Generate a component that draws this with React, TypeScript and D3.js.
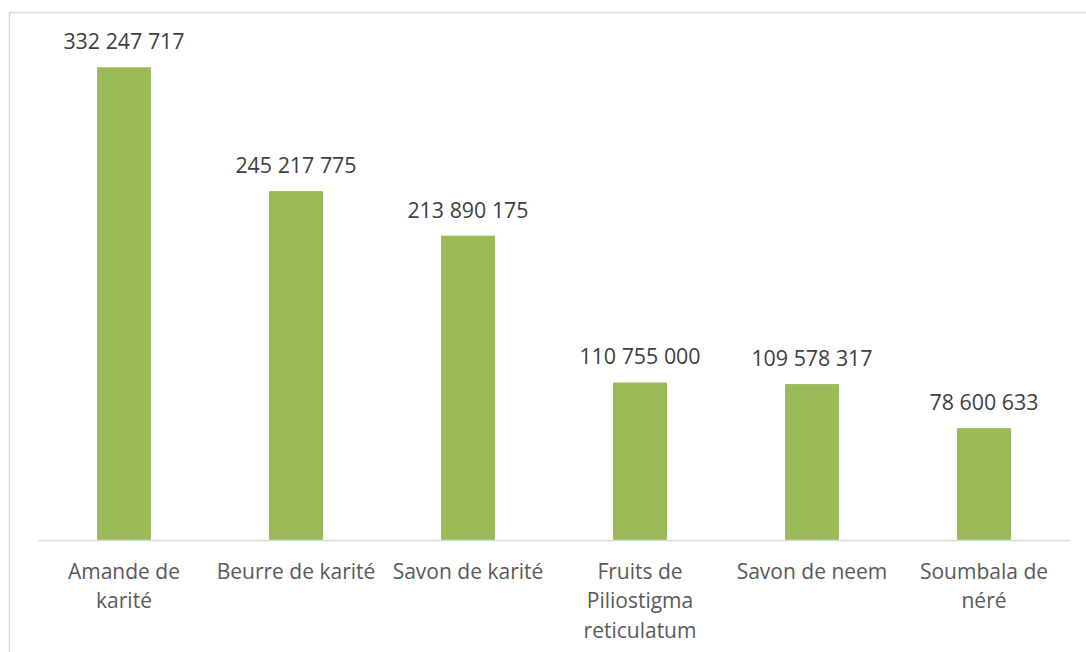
import React from "react";
import * as d3 from "d3";

const categories: string[][] = [
  ["Amande de", "karité"],
  ["Beurre de karité"],
  ["Savon de karité"],
  ["Fruits de", "Piliostigma", "reticulatum"],
  ["Savon de neem"],
  ["Soumbala de", "néré"],
];
const values: number[] = [332247717, 245217775, 213890175, 110755000, 109578317, 78600633];
const valueLabels: string[] = ["332 247 717", "245 217 775", "213 890 175", "110 755 000", "109 578 317", "78 600 633"];
const yMax = 350000000;

const W = 1086;
const H = 652;
const plotLeft = 38;
const plotRight = 1070;
const plotTop = 42;
const plotBottom = 540;
const font = "'Open Sans', sans-serif";

export default function App() {
  const x = d3
    .scaleBand<number>()
    .domain(d3.range(categories.length))
    .range([plotLeft, plotRight])
    .padding(0);
  const y = d3.scaleLinear().domain([0, yMax]).range([plotBottom, plotTop]);
  const barW = x.bandwidth() * 0.314;

  return (
    <svg
      width={W}
      height={H}
      style={{ position: "absolute", left: 0, top: 0, background: "#fff" }}
    >
      <rect x={0} y={0} width={W} height={H} fill="#fff" />
      <rect
        x={9.5}
        y={12.5}
        width={W + 10}
        height={H + 10}
        fill="#fff"
        stroke="#d9d9d9"
        strokeWidth={1.5}
      />
      {values.map((v, i) => {
        const cx = (x(i) as number) + x.bandwidth() / 2;
        return (
          <g key={i}>
            <rect
              x={cx - barW / 2}
              y={y(v)}
              width={barW}
              height={plotBottom - y(v)}
              fill="#9bbb59"
            />
            <text
              x={cx}
              y={y(v) - 18}
              textAnchor="middle"
              fontFamily={font}
              fontSize={21.4}
              fill="#404040"
            >
              {valueLabels[i]}
            </text>
          </g>
        );
      })}
      <line
        x1={plotLeft}
        x2={plotRight}
        y1={plotBottom + 0.5}
        y2={plotBottom + 0.5}
        stroke="#d9d9d9"
        strokeWidth={1.5}
      />
      {categories.map((lines, i) => {
        const cx = (x(i) as number) + x.bandwidth() / 2;
        return (
          <text
            key={i}
            textAnchor="middle"
            fontFamily={font}
            fontSize={21}
            fill="#595959"
          >
            {lines.map((l, j) => (
              <tspan key={j} x={cx} y={579 + j * 29.3}>
                {l}
              </tspan>
            ))}
          </text>
        );
      })}
    </svg>
  );
}
